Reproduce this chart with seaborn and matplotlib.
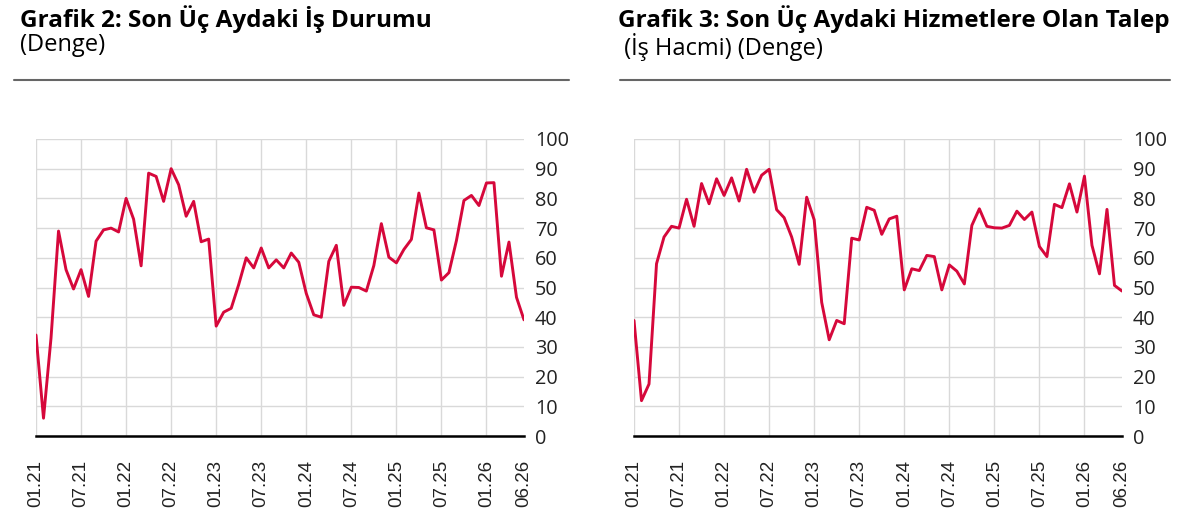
import numpy as np
import pandas as pd
import matplotlib
matplotlib.use("Agg")
import matplotlib.pyplot as plt
import seaborn as sns

sns.set_style("white")
plt.rcParams['font.family'] = ['Open Sans', 'DejaVu Sans']

tick_labels = ["01.21", "07.21", "01.22", "07.22", "01.23", "07.23", "01.24",
               "07.24", "01.25", "07.25", "01.26", "06.26"]
tick_months = [0, 6, 12, 18, 24, 30, 36, 42, 48, 54, 60, 65]

is_durumu = [34, 6, 33, 69, 56, 49.5, 56, 47, 65.6, 69.4, 70, 68.7,
             80, 73, 57.3, 88.5, 87.4, 79, 90, 84.6, 74, 79, 65.4, 66.3,
             37, 41.7, 43, 51, 60, 56.6, 63.3, 56.6, 59.3, 56.6, 61.6, 58.5,
             48, 40.8, 40, 58.8, 64.2, 44, 50.1, 50, 48.8, 57.4, 71.5, 60.2,
             58.3, 62.8, 66.2, 81.8, 70.1, 69.4, 52.5, 55, 65.8, 79.3, 81, 77.6,
             85.2, 85.3, 53.8, 65.3, 46.7, 39.1]

hizmet_talep = [38.9, 11.9, 17.5, 58, 67, 70.6, 70, 79.7, 70.6, 85, 78.2, 86.6,
                81, 86.9, 79.1, 89.8, 82.1, 87.8, 89.8, 76.2, 73.5, 67, 57.8, 80.4,
                72.8, 45, 32.4, 38.9, 37.8, 66.6, 66, 77, 76, 67.9, 73.1, 74,
                49.2, 56.3, 55.7, 60.8, 60.4, 49.2, 57.6, 55.5, 51.2, 70.9, 76.5, 70.6,
                70.1, 70, 70.9, 75.7, 72.9, 75.4, 63.8, 60.4, 78, 76.9, 84.9, 75.4,
                87.5, 64.2, 54.6, 76.3, 50.7, 48.8]

months = np.arange(len(is_durumu))

W, H = 1188, 532
fig = plt.figure(figsize=(W / 100, H / 100), dpi=100)

LINE_COLOR = '#D6083B'
GRID_COLOR = '#d9d9d9'

panels = [
    dict(left=36, title="Grafik 2: Son Üç Aydaki İş Durumu", sub="(Denge)",
         tx=20, rule=(14, 569), data=is_durumu),
    dict(left=634, title="Grafik 3: Son Üç Aydaki Hizmetlere Olan Talep",
         sub=" (İş Hacmi) (Denge)", tx=618, rule=(620, 1170), data=hizmet_talep),
]

for p in panels:
    ax = fig.add_axes([p['left'] / W, (H - 436) / H, 488 / W, 297 / H])
    df = pd.DataFrame({'month': months, 'value': p['data']})
    sns.lineplot(data=df, x='month', y='value', ax=ax, color=LINE_COLOR,
                 linewidth=2.1)
    ax.set_xlim(0, 65)
    ax.set_ylim(0, 100)
    ax.set_xlabel('')
    ax.set_ylabel('')
    for s in ['top', 'left', 'right']:
        ax.spines[s].set_visible(False)
    ax.spines['bottom'].set_linewidth(1.8)
    ax.spines['bottom'].set_color('black')
    ax.set_yticks(np.arange(0, 101, 10))
    ax.yaxis.tick_right()
    ax.tick_params(axis='y', length=0, pad=8, labelsize=14.3, labelcolor='#222222')
    for lab in ax.get_yticklabels():
        lab.set_horizontalalignment('left')
    ax.set_xticks(tick_months)
    ax.set_xticklabels(tick_labels, rotation=90, fontsize=13.5,
                       family=['Liberation Sans', 'DejaVu Sans'], color='#222222')
    ax.tick_params(axis='x', length=7, width=1.8, color='black', pad=10, direction='out')
    ax.grid(True, axis='y', color=GRID_COLOR, linewidth=1)
    for m in tick_months[:-1]:
        ax.axvline(m, color=GRID_COLOR, linewidth=1, zorder=0)
    ax.set_axisbelow(True)

    fig.text(p['tx'] / W, 1 - 5 / H, p['title'], fontsize=17.5, fontweight='bold',
             va='top', ha='left', color='black')
    fig.text(p['tx'] / W, 1 - 33 / H, p['sub'], fontsize=17, va='top', ha='left',
             color='black')
    fig.add_artist(plt.Line2D([p['rule'][0] / W, p['rule'][1] / W],
                              [1 - 80 / H, 1 - 80 / H], color='#666666', linewidth=1.5))

fig.savefig('out.png', dpi=100)
